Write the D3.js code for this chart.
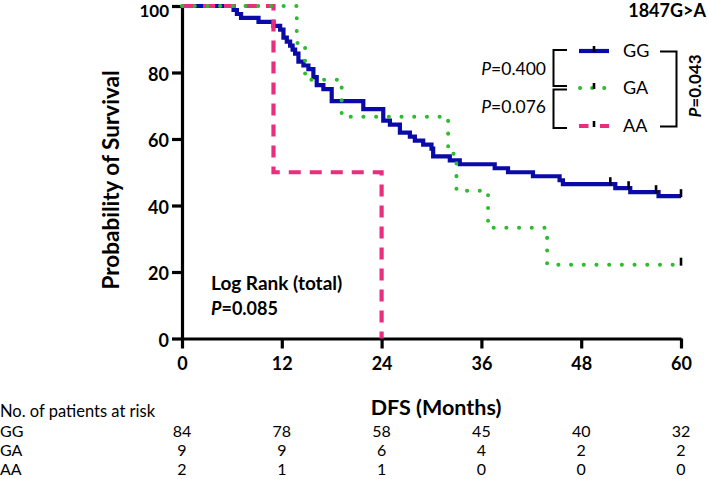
<!DOCTYPE html>
<html><head><meta charset="utf-8">
<script src="https://cdn.jsdelivr.net/npm/d3@7"></script>
<style>
body{margin:0;background:#fff;}
text{font-family:Lato,"Open Sans",sans-serif;fill:#000;}
</style></head>
<body><svg id="c" width="708" height="479"></svg>
<script>
// ---- data ----
const xTicks = [0, 12, 24, 36, 48, 60];
const yTicks = [0, 20, 40, 60, 80, 100];
const groups = ["GG", "GA", "AA"];
// Kaplan-Meier steps: [time (months), survival (%) after step]
const ggSteps = [[0,100],[6.2,98.8],[6.6,97.6],[7.1,96.4],[9.2,95.2],[11.0,94.0],[11.8,92.9],[12.2,90.5],[12.6,89.3],[13.0,88.1],[13.3,86.9],[13.6,85.7],[14.0,83.3],[14.6,82.1],[15.2,81.0],[15.8,78.6],[16.2,76.2],[17.0,75.0],[18.0,71.4],[21.8,69.0],[24.2,65.5],[25.0,64.3],[26.2,61.9],[27.4,60.7],[28.0,59.5],[29.0,58.3],[30.0,57.1],[30.2,54.8],[32.2,53.6],[33.4,52.4],[37.6,51.2],[39.2,50.0],[42.2,48.8],[45.4,47.6],[45.8,46.4],[52.1,45.2],[53.9,44.0],[57.3,42.8]];
const gaSteps = [[0,100],[13.8,88.9],[14.8,77.8],[19.2,66.7],[32.0,55.6],[33.0,44.4],[36.8,33.3],[43.9,22.2]];
const aaSteps = [[0,100],[11.0,50],[24.0,0]];
const ggEnd = 60, gaEnd = 60, aaEnd = 24;
const ggCensor = [51.5, 53.7, 57.0, 60];
const gaCensor = [60];
const riskGG = [84, 78, 58, 45, 40, 32];
const riskGA = [9, 9, 6, 4, 2, 2];
const riskAA = [2, 1, 1, 0, 0, 0];
const pairP = ["0.400", "0.076"];
const overallP = "0.043";
const logRankP = "0.085";

// ---- scales ----
const svg = d3.select("#c");
svg.append("rect").attr("width",708).attr("height",479).attr("fill","#fff");
const x = d3.scaleLinear().domain([0,60]).range([182,681]);
const y = d3.scaleLinear().domain([0,100]).range([338.5,6]);

// axes
const xAxis = svg.append("g").attr("transform","translate(0,338.5)")
  .call(d3.axisBottom(x).tickValues(xTicks).tickSize(10).tickSizeOuter(0).tickPadding(9));
const yAxis = svg.append("g").attr("transform","translate(182,0)")
  .call(d3.axisLeft(y).tickValues(yTicks).tickSize(10).tickSizeOuter(0).tickPadding(3));
[xAxis,yAxis].forEach(a=>{
  a.select(".domain").attr("stroke","#000").attr("stroke-width",3.2);
  a.selectAll(".tick line").attr("stroke","#000").attr("stroke-width",3.2);
  a.selectAll(".tick text").style("font-family","Lato").style("font-weight","bold").style("font-size","18px").attr("fill","#000");
});
yAxis.selectAll(".tick text").attr("dy","0.43em");
// keep the top label inside the picture
yAxis.selectAll(".tick text").filter(d=>d===100).style("font-size","17px").attr("dy","0.64em");
xAxis.selectAll(".tick text").attr("dy","0.71em");

// KM paths
function kmPath(steps, end){
  const pts = [];
  steps.forEach((s,i)=>{
    if(i>0) pts.push([s[0], steps[i-1][1]]);
    pts.push(s);
  });
  pts.push([end, steps[steps.length-1][1]]);
  return d3.line().x(d=>x(d[0])).y(d=>y(d[1]))(pts);
}
function survAt(steps,t){let v=100;steps.forEach(s=>{if(s[0]<=t)v=s[1];});return v;}

svg.append("path").attr("d",kmPath(ggSteps,ggEnd)).attr("fill","none")
  .attr("stroke","#0a0aa8").attr("stroke-width",4.2).attr("stroke-linejoin","miter");
svg.append("path").attr("d",kmPath(aaSteps,aaEnd)).attr("fill","none")
  .attr("stroke","#ea2e7e").attr("stroke-width",4.2).attr("stroke-dasharray","12 9");
svg.append("path").attr("d",kmPath(gaSteps,gaEnd)).attr("fill","none")
  .attr("stroke","#2fbb2f").attr("stroke-width",4).attr("stroke-linecap","round").attr("stroke-dasharray","0.1 12.6");

// censor marks
function censor(times, steps){
  times.forEach(t=>{
    const yy = y(survAt(steps,t));
    svg.append("line").attr("x1",x(t)).attr("x2",x(t)).attr("y1",yy-7).attr("y2",yy+1)
      .attr("stroke","#000").attr("stroke-width",2.6);
  });
}
censor(ggCensor, ggSteps);
censor(gaCensor, gaSteps);

// axis titles
svg.append("text").attr("transform","translate(119,180) rotate(-90)").attr("text-anchor","middle")
  .style("font-weight","bold").style("font-size","22.5px").text("Probability of Survival");
svg.append("text").attr("x",436).attr("y",407).attr("dy","0.35em").attr("text-anchor","middle")
  .style("font-weight","bold").style("font-size","21.5px").text("DFS (Months)");

// title
svg.append("text").attr("x",706).attr("y",11).attr("dy","0.35em").attr("text-anchor","end")
  .style("font-weight","bold").style("font-size","18px").text("1847G>A");

// legend
const legY = [51, 88, 126];
const lx0 = 579, lx1 = 609;
svg.append("line").attr("x1",lx0).attr("x2",lx1).attr("y1",legY[0]).attr("y2",legY[0]).attr("stroke","#0a0aa8").attr("stroke-width",4.2);
svg.append("line").attr("x1",lx0+1).attr("x2",lx1).attr("y1",legY[1]).attr("y2",legY[1]).attr("stroke","#2fbb2f").attr("stroke-width",4).attr("stroke-linecap","round").attr("stroke-dasharray","0.1 12");
svg.append("line").attr("x1",lx0).attr("x2",lx1).attr("y1",legY[2]).attr("y2",legY[2]).attr("stroke","#ea2e7e").attr("stroke-width",4.2).attr("stroke-dasharray","9.5 11.5");
legY.forEach(v=>{
  svg.append("line").attr("x1",594).attr("x2",594).attr("y1",v-5).attr("y2",v+1).attr("stroke","#000").attr("stroke-width",2.6);
});
groups.forEach((g,i)=>{
  svg.append("text").attr("x",623).attr("y",legY[i]).attr("dy","0.35em").style("font-size","18px").text(g);
});
// brackets
const br = (pts)=>svg.append("path").attr("d",d3.line()(pts)).attr("fill","none").attr("stroke","#000").attr("stroke-width",2);
br([[567,50],[553.5,50],[553.5,86],[567,86]]);
br([[567,89.5],[553.5,89.5],[553.5,128],[567,128]]);
br([[660,51.5],[676.5,51.5],[676.5,126.5],[660,126.5]]);
function pText(sel, val){
  sel.append("tspan").style("font-style","italic").text("P");
  sel.append("tspan").text("=" + val);
}
pText(svg.append("text").attr("x",546).attr("y",68.5).attr("dy","0.35em").attr("text-anchor","end").style("font-size","17.5px"), pairP[0]);
pText(svg.append("text").attr("x",546).attr("y",107).attr("dy","0.35em").attr("text-anchor","end").style("font-size","17.5px"), pairP[1]);
pText(svg.append("text").attr("transform","translate(695,86) rotate(-90)").attr("dy","0.35em").attr("text-anchor","middle").style("font-size","17px").style("font-weight","bold"), overallP);

// log rank
svg.append("text").attr("x",211).attr("y",283.5).attr("dy","0.35em").style("font-weight","bold").style("font-size","19px").text("Log Rank (total)");
pText(svg.append("text").attr("x",211).attr("y",309).attr("dy","0.35em").style("font-weight","bold").style("font-size","18px"), logRankP);

// risk table
svg.append("text").attr("x",0).attr("y",411).attr("dy","0.35em").style("font-size","16.5px").text("No. of patients at risk");
const rows = [riskGG, riskGA, riskAA];
const rowY = [431, 450.5, 469];
rows.forEach((r,i)=>{
  svg.append("text").attr("x",0).attr("y",rowY[i]).attr("dy","0.35em").style("font-size","16px").text(groups[i]);
  r.forEach((v,j)=>{
    svg.append("text").attr("x",x(xTicks[j])).attr("y",rowY[i]).attr("dy","0.35em").attr("text-anchor","middle").style("font-size","16px").text(v);
  });
});
</script></body></html>
